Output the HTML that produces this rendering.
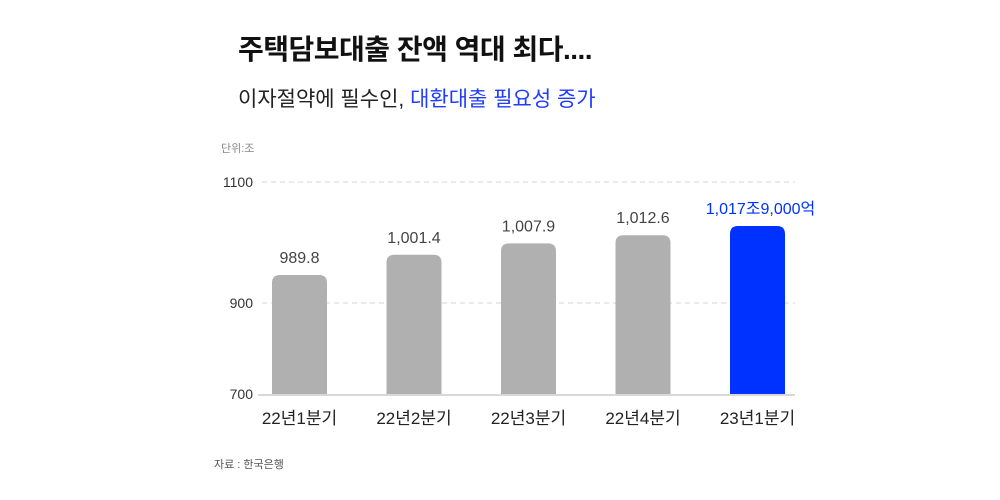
<!DOCTYPE html>
<html><head><meta charset="utf-8">
<style>
body{margin:0;background:#fff;}
#wrap{position:relative;width:1000px;height:500px;overflow:hidden;font-family:"Liberation Sans","Noto Sans CJK KR",sans-serif;}
.t{position:absolute;white-space:nowrap;}
</style></head>
<body>
<div id="wrap">
<div class="t" style="left:238px;top:28px;font-size:28px;font-weight:bold;color:#111;letter-spacing:-0.5px;">주택담보대출 잔액 역대 최다....</div>
<div class="t" style="left:238px;top:83px;font-size:21px;color:#222;">이자절약에 필수인, <span style="color:#1f3cff">대환대출 필요성 증가</span></div>
<div class="t" style="left:221px;top:140px;font-size:11px;color:#888;">단위:조</div>
<div class="t" style="left:214px;top:456px;font-size:11px;color:#555;">자료 : 한국은행</div>
<svg id="chart" width="1000" height="500" style="position:absolute;left:0;top:0"></svg>
</div>
<script>
const categories=["22년1분기","22년2분기","22년3분기","22년4분기","23년1분기"];
const values=[989.8,1001.4,1007.9,1012.6,1017.9];
const valueLabels=["989.8","1,001.4","1,007.9","1,012.6","1,017조9,000억"];
const tickValues=[700,900,1100];
const tickLabels=["700","900","1100"];
const NS="http://www.w3.org/2000/svg";
const svg=document.getElementById('chart');
// axis functions
function xScale(i){return 299.5+i*114.5;}
function yBar(v){return 275-(v-989.8)*1.744;}
function yTick(v){return v>=900?303-(v-900)*0.605:394-(v-700)*0.455;}
const baseY=394,barW=55;
function mk(tag,attrs){const e=document.createElementNS(NS,tag);for(const k in attrs)e.setAttribute(k,attrs[k]);svg.appendChild(e);return e;}
tickValues.forEach((v,i)=>{
  const y=yTick(v);
  if(v>700){
    const g=mk('line',{x1:262,x2:795,y1:y,y2:y,stroke:'#d4d4d4','stroke-width':1,'stroke-dasharray':'5,4'});
    
    
  }
  const t=mk('text',{x:253,y:y+5,'text-anchor':'end','font-size':14,fill:'#333','font-family':'Liberation Sans, sans-serif'});
  t.textContent=tickLabels[i];
  
  
});
values.forEach((v,i)=>{
  const cx=xScale(i),top=yBar(v),h=baseY-top,r=8;
  const last=i===values.length-1;
  const col=last?'#0032ff':'#b0b0b0';
  const x0=cx-barW/2,x1=cx+barW/2;
  const p=mk('path',{d:`M${x0},${baseY}V${top+r}Q${x0},${top} ${x0+r},${top}H${x1-r}Q${x1},${top} ${x1},${top+r}V${baseY}Z`,fill:col});
  
  
  const vl=mk('text',{x:cx+(last?3:0),y:top-12,'text-anchor':'middle','font-size':16,fill:last?'#0032ff':'#444','font-family':'Liberation Sans, Noto Sans CJK KR, sans-serif'});
  vl.textContent=valueLabels[i];
  
  
  const cl=mk('text',{x:cx,y:424,'text-anchor':'middle','font-size':17,fill:'#222','font-family':'Liberation Sans, Noto Sans CJK KR, sans-serif'});
  cl.textContent=categories[i];
  
  
});
const b=mk('line',{x1:258,x2:795,y1:baseY+1,y2:baseY+1,stroke:'#d8d8d8','stroke-width':2});


</script>
</body></html>
